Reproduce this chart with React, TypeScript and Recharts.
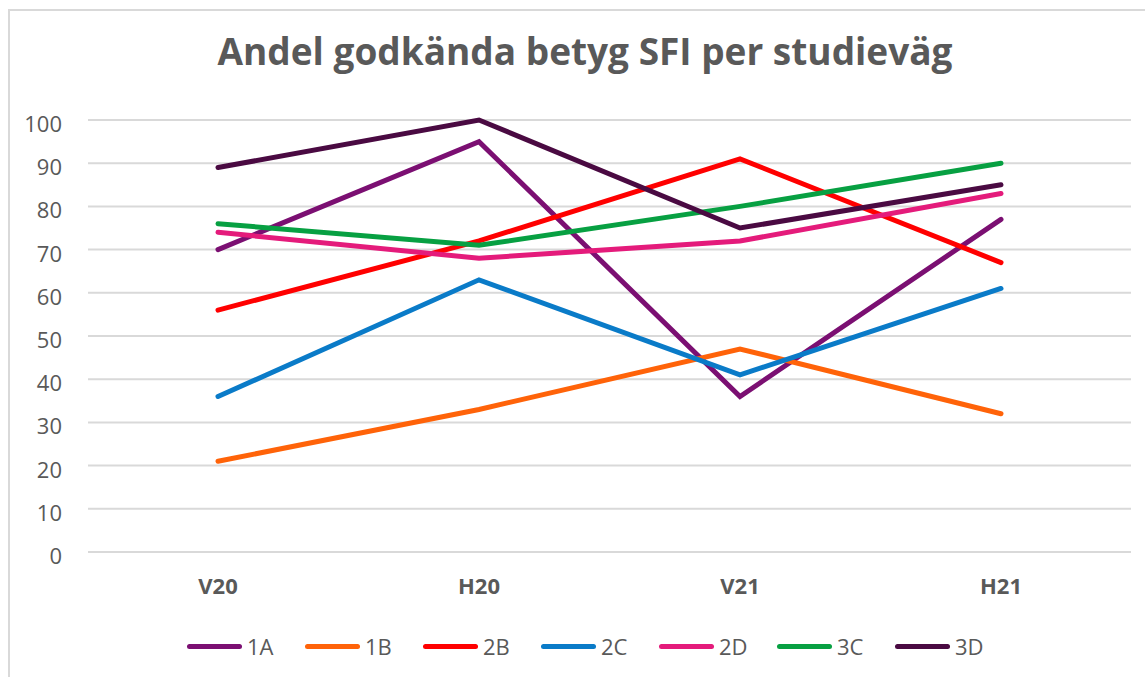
import { LineChart, Line, XAxis, YAxis, CartesianGrid, Legend } from "recharts";

const terms = ["V20", "H20", "V21", "H21"];
const s1A = [70, 95, 36, 77];
const s1B = [21, 33, 47, 32];
const s2B = [56, 72, 91, 67];
const s2C = [36, 63, 41, 61];
const s2D = [74, 68, 72, 83];
const s3C = [76, 71, 80, 90];
const s3D = [89, 100, 75, 85];
const yTicks = [0, 10, 20, 30, 40, 50, 60, 70, 80, 90, 100];

const series = [
  { key: "1A", values: s1A, color: "#7B0F72" },
  { key: "1B", values: s1B, color: "#FF6309" },
  { key: "2B", values: s2B, color: "#FF0000" },
  { key: "2C", values: s2C, color: "#0A7BC8" },
  { key: "2D", values: s2D, color: "#E41B7B" },
  { key: "3C", values: s3C, color: "#07A042" },
  { key: "3D", values: s3D, color: "#4A0A42" },
];

const data = terms.map((t, i) => {
  const row: Record<string, string | number> = { term: t };
  series.forEach((s) => (row[s.key] = s.values[i]));
  return row;
});

const FONT = "'Open Sans', sans-serif";
const GREY = "#595959";

const YTick = ({ x, y, payload }: any) => (
  <text x={x} y={y} dy={12} textAnchor="end" fill={GREY} fontSize={22} fontFamily={FONT}>
    {payload.value}
  </text>
);

const XTick = ({ x, y, payload }: any) => (
  <text x={x} y={y} dy={42} textAnchor="middle" fill={GREY} fontSize={22} fontWeight={700} fontFamily={FONT}>
    {payload.value}
  </text>
);

const LegendBox = ({ payload }: any) => (
  <div style={{ display: "flex", paddingLeft: 187, fontFamily: FONT }}>
    {(payload || []).map((p: any) => (
      <div key={p.value} style={{ display: "flex", alignItems: "center", width: 118 }}>
        <span style={{ width: 55, height: 5, borderRadius: 3, background: p.color, display: "inline-block" }} />
        <span style={{ marginLeft: 5, fontSize: 22, color: GREY, lineHeight: "30px" }}>{p.value}</span>
      </div>
    ))}
  </div>
);

export default function App() {
  return (
    <div style={{ position: "absolute", left: 0, top: 0, width: 1145, height: 677, background: "#fff", overflow: "hidden" }}>
      <div
        style={{
          position: "absolute",
          left: 8,
          top: 9,
          width: 1145,
          height: 677,
          borderTop: "2px solid #d9d9d9",
          borderLeft: "2px solid #d9d9d9",
        }}
      />
      <div
        style={{
          position: "absolute",
          left: 0,
          top: 24,
          width: 1170,
          textAlign: "center",
          fontFamily: FONT,
          fontWeight: 700,
          fontSize: 37,
          color: GREY,
          lineHeight: "54px",
        }}
      >
        Andel godkända betyg SFI per studieväg
      </div>
      <div style={{ position: "absolute", left: 0, top: 0 }}>
        <LineChart width={1145} height={677} data={data} margin={{ top: 120, right: 14, bottom: 95, left: 0 }}>
          <CartesianGrid vertical={false} stroke="#d9d9d9" strokeWidth={2} />
          <XAxis
            dataKey="term"
            axisLine={false}
            tickLine={false}
            tickSize={0}
            tickMargin={0}
            tick={<XTick />}
            height={30}
            padding={{ left: 130, right: 130 }}
          />
          <YAxis
            width={88}
            domain={[0, 100]}
            ticks={yTicks}
            axisLine={false}
            tickLine={false}
            tickSize={0}
            tickMargin={26}
            tick={<YTick />}
            interval={0}
          />
          <Legend
            layout="horizontal"
            verticalAlign="middle"
            align="center"
            content={<LegendBox />}
            wrapperStyle={{ top: 631, left: 0, width: 1145 }}
          />
          {series.map((s) => (
            <Line
              key={s.key}
              dataKey={s.key}
              name={s.key}
              stroke={s.color}
              strokeWidth={5}
              strokeLinecap="round"
              dot={false}
              activeDot={false}
              type="linear"
              isAnimationActive={false}
            />
          ))}
        </LineChart>
      </div>
    </div>
  );
}
